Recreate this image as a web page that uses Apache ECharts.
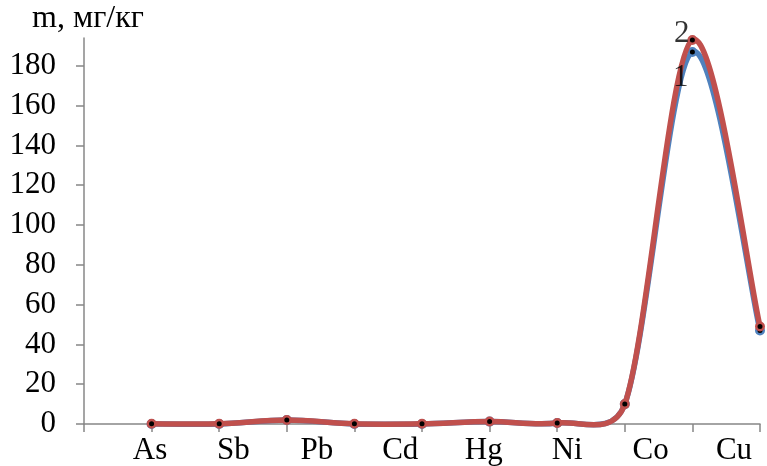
<!DOCTYPE html>
<html>
<head>
<meta charset="utf-8">
<script src="https://cdn.jsdelivr.net/npm/echarts@6/dist/echarts.min.js"></script>
<style>
html,body{margin:0;padding:0;background:#fff;}
#c{width:767px;height:466px;}
</style>
</head>
<body>
<div id="c"></div>
<script>
var categories = ['As', 'Sb', 'Pb', 'Cd', 'Hg', 'Ni', 'Co', 'Cu'];
var series1 = [0, 0, 2, 0, 0, 1.2, 0.5, 10, 187, 47];
var series2 = [0.1, 0.1, 2, 0.1, 0.1, 1.3, 0.5, 10, 193, 49];
var yTicks = [0, 20, 40, 60, 80, 100, 120, 140, 160, 180];
var yTitle = 'm, мг/кг';
var seriesNames = ['1', '2'];

var FONT = '"Liberation Serif", "DejaVu Serif", serif';
var FS = 31;
var BLUE = '#4F81BD', RED = '#C0504D';

function pts(vals) {
  return vals.map(function (v, i) { return [i + 1, v]; });
}
function dist(a, b) { return Math.sqrt((a[0] - b[0]) * (a[0] - b[0]) + (a[1] - b[1]) * (a[1] - b[1])); }

// Excel-like smoothed curve: Catmull-Rom tangents, control arms clamped to half the segment
function curveSeries(vals, color, z) {
  return {
    type: 'custom', xAxisIndex: 0, yAxisIndex: 0, z: z, silent: true,
    data: pts(vals),
    renderItem: function (params, api) {
      if (params.dataIndex !== 0) return null;
      var P = vals.map(function (v, i) { return api.coord([i + 1, v]); });
      function tangent(i) {
        var a = P[i - 1] || P[i], b = P[i + 1] || P[i];
        var dx = b[0] - a[0], dy = b[1] - a[1];
        var L = Math.sqrt(dx * dx + dy * dy) || 1;
        return { ux: dx / L, uy: dy / L, len: L / 6 };
      }
      var d = 'M' + P[0][0] + ' ' + P[0][1];
      for (var i = 0; i < P.length - 1; i++) {
        var p1 = P[i], p2 = P[i + 1];
        var seg = dist(p1, p2);
        var t1 = tangent(i), t2 = tangent(i + 1);
        var l1 = Math.min(t1.len, seg / 2), l2 = Math.min(t2.len, seg / 2);
        var c1 = [p1[0] + t1.ux * l1, p1[1] + t1.uy * l1];
        var c2 = [p2[0] - t2.ux * l2, p2[1] - t2.uy * l2];
        d += ' C' + c1[0] + ' ' + c1[1] + ' ' + c2[0] + ' ' + c2[1] + ' ' + p2[0] + ' ' + p2[1];
      }
      return {
        type: 'path',
        shape: { pathData: d },
        style: { fill: null, stroke: color, lineWidth: 5.5, lineCap: 'round', lineJoin: 'round' }
      };
    }
  };
}

function markerSeries(vals, color, name, z) {
  return {
    name: name, type: 'line', xAxisIndex: 0, yAxisIndex: 0, z: z,
    data: pts(vals),
    lineStyle: { opacity: 0, width: 0 },
    symbol: 'circle', symbolSize: 7.5, showAllSymbol: true,
    itemStyle: { color: '#000', borderColor: color, borderWidth: 2.5 }
  };
}

function labelSeries(vals, name, labelOffset) {
  var peak = vals.indexOf(Math.max.apply(null, vals));
  return {
    type: 'scatter', xAxisIndex: 0, yAxisIndex: 0, z: 10, silent: true,
    symbolSize: 0,
    data: [[peak + 1, vals[peak]]],
    label: {
      show: true, formatter: name, position: 'left', distance: 2,
      offset: labelOffset, color: '#000', fontFamily: FONT, fontSize: FS
    }
  };
}

var chart = echarts.init(document.getElementById('c'));
chart.setOption({
  animation: false,
  grid: [
    { left: 84, right: 7, top: 38, bottom: 42 },
    { left: 150, right: 33, top: 38, bottom: 42 }
  ],
  graphic: [{
    type: 'text', left: 32, top: 3,
    style: { text: yTitle, font: '32px ' + FONT, fill: '#000' }
  }],
  xAxis: [
    {
      type: 'value', gridIndex: 0, min: 0, max: 10, interval: 1,
      axisLine: { show: true, lineStyle: { color: '#878787', width: 1.5 } },
      axisTick: { show: true, length: 8, lineStyle: { color: '#878787', width: 1.5 } },
      axisLabel: { show: false },
      splitLine: { show: false }
    },
    {
      type: 'category', gridIndex: 1, data: categories, boundaryGap: false,
      axisLine: { show: false }, axisTick: { show: false },
      axisLabel: { color: '#000', fontFamily: FONT, fontSize: FS, margin: 13, interval: 0 },
      splitLine: { show: false }
    }
  ],
  yAxis: [
    {
      type: 'value', gridIndex: 0, min: 0, max: 194, interval: 20,
      axisLine: { show: true, lineStyle: { color: '#878787', width: 1.5 } },
      axisTick: { show: true, length: 8, customValues: yTicks, lineStyle: { color: '#878787', width: 1.5 } },
      axisLabel: { color: '#000', fontFamily: FONT, fontSize: FS, margin: 28, customValues: yTicks },
      splitLine: { show: false }
    },
    {
      type: 'value', gridIndex: 1, min: 0, max: 194, show: false
    }
  ],
  series: [
    curveSeries(series1, BLUE, 2),
    markerSeries(series1, BLUE, seriesNames[0], 3),
    curveSeries(series2, RED, 4),
    markerSeries(series2, RED, seriesNames[1], 5),
    labelSeries(series1, seriesNames[0], [-2, 26]),
    labelSeries(series2, seriesNames[1], [-1, -6])
  ]
});
</script>
</body>
</html>
